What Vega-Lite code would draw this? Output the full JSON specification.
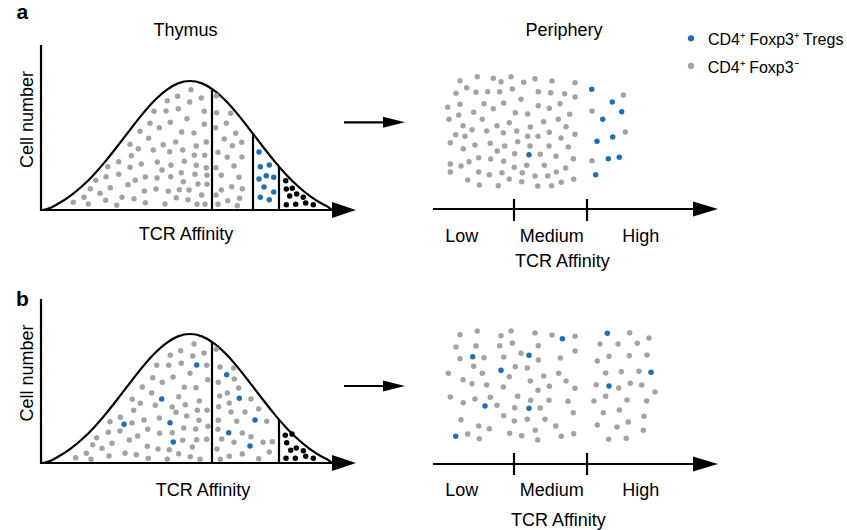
{
 "$schema": "https://vega.github.io/schema/vega-lite/v6.json",
 "width": 847, "height": 530, "padding": 0,
 "autosize": {"type": "fit", "contains": "padding"},
 "background": "white",
 "config": {"view": {"stroke": null}, "text": {"font": "Liberation Sans"}},
 "datasets": {
  "segs": [
   {"x":41,"y":45,"x2":41,"y2":211},{"x":40,"y":210,"x2":334,"y2":210},
   {"x":212,"y":210,"x2":212,"y2":88.8},{"x":253,"y":210,"x2":253,"y2":133.7},{"x":279,"y":210,"x2":279,"y2":167},
   {"x":41,"y":299,"x2":41,"y2":464},{"x":40,"y":463,"x2":334,"y2":463},
   {"x":212,"y":463,"x2":212,"y2":341.8},{"x":279,"y":463,"x2":279,"y2":420},
   {"x":344,"y":122.3,"x2":385,"y2":122.3},{"x":344,"y":386,"x2":385,"y2":386},
   {"x":433,"y":209,"x2":695,"y2":209},{"x":514,"y":199,"x2":514,"y2":221},{"x":587,"y":199,"x2":587,"y2":221},
   {"x":433,"y":464,"x2":695,"y2":464},{"x":514,"y":453,"x2":514,"y2":475},{"x":587,"y":453,"x2":587,"y2":475}
  ],
  "curve": [
   {"p":"a","x":43,"y":210},{"p":"a","x":50,"y":208},{"p":"a","x":58,"y":203.8},{"p":"a","x":70,"y":196.1},{"p":"a","x":82,"y":186.3},{"p":"a","x":94,"y":174.4},{"p":"a","x":106,"y":160.6},{"p":"a","x":118,"y":145.5},{"p":"a","x":130,"y":129.8},{"p":"a","x":142,"y":114.6},{"p":"a","x":154,"y":101},{"p":"a","x":166,"y":90.3},{"p":"a","x":178,"y":83.4},{"p":"a","x":190,"y":81},{"p":"a","x":202,"y":83.4},{"p":"a","x":214,"y":90.3},{"p":"a","x":226,"y":101},{"p":"a","x":238,"y":114.6},{"p":"a","x":250,"y":129.8},{"p":"a","x":262,"y":145.5},{"p":"a","x":274,"y":160.6},{"p":"a","x":286,"y":174.4},{"p":"a","x":298,"y":186.3},{"p":"a","x":310,"y":196.1},{"p":"a","x":322,"y":203.8},{"p":"a","x":328,"y":206.9},{"p":"a","x":332,"y":210},
   {"p":"b","x":43,"y":463},{"p":"b","x":50,"y":461},{"p":"b","x":58,"y":456.8},{"p":"b","x":70,"y":449.1},{"p":"b","x":82,"y":439.3},{"p":"b","x":94,"y":427.4},{"p":"b","x":106,"y":413.6},{"p":"b","x":118,"y":398.5},{"p":"b","x":130,"y":382.8},{"p":"b","x":142,"y":367.6},{"p":"b","x":154,"y":354},{"p":"b","x":166,"y":343.3},{"p":"b","x":178,"y":336.4},{"p":"b","x":190,"y":334},{"p":"b","x":202,"y":336.4},{"p":"b","x":214,"y":343.3},{"p":"b","x":226,"y":354},{"p":"b","x":238,"y":367.6},{"p":"b","x":250,"y":382.8},{"p":"b","x":262,"y":398.5},{"p":"b","x":274,"y":413.6},{"p":"b","x":286,"y":427.4},{"p":"b","x":298,"y":439.3},{"p":"b","x":310,"y":449.1},{"p":"b","x":322,"y":456.8},{"p":"b","x":328,"y":459.9},{"p":"b","x":332,"y":463}
  ],
  "heads": [
   {"k":"t","x":344,"y":210},{"k":"t","x":344,"y":463},
   {"k":"p","x":705.5,"y":209},{"k":"p","x":705.5,"y":464},
   {"k":"m","x":394,"y":122.3},{"k":"m","x":394,"y":386}
  ],
  "legend": [
   {"x":691,"y":38.3,"t":"b"},{"x":691,"y":66,"t":"g"}
  ],
  "labels": [
   {"r":"L","x":16.5,"y":18.5,"text":"a"},{"r":"L","x":16,"y":305.5,"text":"b"},
   {"r":"T","x":185.5,"y":36,"text":"Thymus"},{"r":"T","x":564,"y":36,"text":"Periphery"},
   {"r":"T","x":186,"y":240,"text":"TCR Affinity"},{"r":"T","x":203,"y":496,"text":"TCR Affinity"},
   {"r":"T","x":461.7,"y":241.7,"text":"Low"},{"r":"T","x":551.7,"y":241.7,"text":"Medium"},{"r":"T","x":640.7,"y":241.7,"text":"High"},{"r":"T","x":562.3,"y":267.3,"text":"TCR Affinity"},
   {"r":"T","x":461.7,"y":495.7,"text":"Low"},{"r":"T","x":551.7,"y":495.7,"text":"Medium"},{"r":"T","x":640.7,"y":495.7,"text":"High"},{"r":"T","x":558.3,"y":526,"text":"TCR Affinity"},
   {"r":"V","x":33.3,"y":119.5,"text":"Cell number"},{"r":"V","x":33.3,"y":373,"text":"Cell number"},
   {"r":"G","x":708,"y":45,"text":"CD4⁺ Foxp3⁺ Tregs"},{"r":"G","x":707.7,"y":72.7,"text":"CD4⁺ Foxp3⁻"}
  ],
  "dots": [
   {"x":191,"y":89.7,"t":"g"},{"x":177.7,"y":96.3,"t":"g"},{"x":167.3,"y":100.7,"t":"g"},{"x":189.7,"y":102,"t":"g"},{"x":201.3,"y":98,"t":"g"},{"x":154,"y":111.3,"t":"g"},{"x":166,"y":111,"t":"g"},{"x":178.3,"y":108.7,"t":"g"},{"x":204.3,"y":111.3,"t":"g"},{"x":150,"y":123.3,"t":"g"},{"x":159.3,"y":127.7,"t":"g"},{"x":170.3,"y":122.3,"t":"g"},{"x":187,"y":118.7,"t":"g"},{"x":204.3,"y":124.3,"t":"g"},{"x":140,"y":131.3,"t":"g"},{"x":148.7,"y":138.3,"t":"g"},{"x":181.7,"y":132,"t":"g"},{"x":194,"y":133,"t":"g"},{"x":130,"y":144.3,"t":"g"},{"x":138.3,"y":148.7,"t":"g"},{"x":153.3,"y":150,"t":"g"},{"x":163.3,"y":144.7,"t":"g"},{"x":175.7,"y":142,"t":"g"},{"x":169.7,"y":151.7,"t":"g"},{"x":182.7,"y":150,"t":"g"},{"x":196.3,"y":146,"t":"g"},{"x":206.3,"y":142,"t":"g"},{"x":131.3,"y":155.7,"t":"g"},{"x":118.7,"y":161.7,"t":"g"},{"x":141.3,"y":164,"t":"g"},{"x":157.3,"y":162,"t":"g"},{"x":171,"y":165.3,"t":"g"},{"x":184.3,"y":161.3,"t":"g"},{"x":194.3,"y":155.3,"t":"g"},{"x":204.7,"y":155.3,"t":"g"},{"x":107.7,"y":166.7,"t":"g"},{"x":130,"y":167.3,"t":"g"},{"x":162,"y":170,"t":"g"},{"x":181.3,"y":172.7,"t":"g"},{"x":196.3,"y":165.3,"t":"g"},{"x":206.3,"y":167.7,"t":"g"},{"x":95.7,"y":180.3,"t":"g"},{"x":106,"y":176.7,"t":"g"},{"x":118.7,"y":174.3,"t":"g"},{"x":128,"y":184.7,"t":"g"},{"x":135.3,"y":180.3,"t":"g"},{"x":145.3,"y":177,"t":"g"},{"x":157,"y":178,"t":"g"},{"x":170.7,"y":176.7,"t":"g"},{"x":183.3,"y":181.7,"t":"g"},{"x":195,"y":174.3,"t":"g"},{"x":207,"y":175.3,"t":"g"},{"x":90.3,"y":188.7,"t":"g"},{"x":100,"y":193.3,"t":"g"},{"x":110.3,"y":187.7,"t":"g"},{"x":144.3,"y":191,"t":"g"},{"x":156,"y":189,"t":"g"},{"x":168.3,"y":191.3,"t":"g"},{"x":179.3,"y":189.7,"t":"g"},{"x":189,"y":190,"t":"g"},{"x":198,"y":184,"t":"g"},{"x":207,"y":184.3,"t":"g"},{"x":73.3,"y":202.3,"t":"g"},{"x":84,"y":197.3,"t":"g"},{"x":88.3,"y":204,"t":"g"},{"x":105.7,"y":200.3,"t":"g"},{"x":116.7,"y":205.3,"t":"g"},{"x":122,"y":197.3,"t":"g"},{"x":134,"y":198.7,"t":"g"},{"x":145.3,"y":202.7,"t":"g"},{"x":165,"y":204,"t":"g"},{"x":176.3,"y":197.7,"t":"g"},{"x":188,"y":199.7,"t":"g"},{"x":197,"y":204.3,"t":"g"},{"x":205,"y":204.3,"t":"g"},{"x":201.7,"y":195,"t":"g"},
   {"x":216.3,"y":95.7,"t":"g"},{"x":216.7,"y":112.7,"t":"g"},{"x":230.7,"y":113.3,"t":"g"},{"x":226.3,"y":123.3,"t":"g"},{"x":215.7,"y":127.7,"t":"g"},{"x":235.7,"y":133.3,"t":"g"},{"x":224.3,"y":139,"t":"g"},{"x":232.3,"y":145.7,"t":"g"},{"x":241.7,"y":142.3,"t":"g"},{"x":218,"y":152.3,"t":"g"},{"x":227.3,"y":157.3,"t":"g"},{"x":242,"y":157,"t":"g"},{"x":216,"y":167.7,"t":"g"},{"x":234,"y":166,"t":"g"},{"x":221.3,"y":175.3,"t":"g"},{"x":239,"y":177.3,"t":"g"},{"x":216,"y":195,"t":"g"},{"x":221.3,"y":190,"t":"g"},{"x":231.7,"y":186.7,"t":"g"},{"x":242.3,"y":188.7,"t":"g"},{"x":227.7,"y":200.7,"t":"g"},{"x":239.7,"y":198.3,"t":"g"},{"x":218,"y":204.3,"t":"g"},{"x":237.3,"y":205.7,"t":"g"},
   {"x":259,"y":152,"t":"b"},{"x":260.3,"y":166.7,"t":"b"},{"x":269.3,"y":165,"t":"b"},{"x":259,"y":179,"t":"b"},{"x":266.3,"y":175.7,"t":"b"},{"x":273.7,"y":177.3,"t":"b"},{"x":264,"y":187,"t":"b"},{"x":273.7,"y":192,"t":"b"},{"x":260.3,"y":197.3,"t":"b"},{"x":269.3,"y":199.7,"t":"b"},
   {"x":285.7,"y":180.7,"t":"k"},{"x":286.3,"y":189,"t":"k"},{"x":292.3,"y":188.3,"t":"k"},{"x":289.7,"y":196,"t":"k"},{"x":296.7,"y":194,"t":"k"},{"x":303.3,"y":197.3,"t":"k"},{"x":286.3,"y":204.7,"t":"k"},{"x":295.7,"y":204.3,"t":"k"},{"x":305.7,"y":203,"t":"k"},{"x":313.3,"y":204.7,"t":"k"},
   {"x":194,"y":344,"t":"g"},{"x":180.7,"y":350.7,"t":"g"},{"x":170.3,"y":355.3,"t":"g"},{"x":192.7,"y":356,"t":"g"},{"x":204,"y":353,"t":"g"},{"x":156.7,"y":365.3,"t":"g"},{"x":168.7,"y":365.3,"t":"g"},{"x":181.3,"y":363.3,"t":"g"},{"x":206.7,"y":365.3,"t":"g"},{"x":152.7,"y":377.7,"t":"g"},{"x":162.3,"y":382.3,"t":"g"},{"x":173,"y":377,"t":"g"},{"x":190,"y":373.3,"t":"g"},{"x":207.7,"y":379.7,"t":"g"},{"x":142.3,"y":387,"t":"g"},{"x":151.7,"y":393,"t":"g"},{"x":184.3,"y":387.3,"t":"g"},{"x":196,"y":387.7,"t":"g"},{"x":132.3,"y":399.3,"t":"g"},{"x":140.3,"y":403.3,"t":"g"},{"x":155.3,"y":405.3,"t":"g"},{"x":178.7,"y":396.7,"t":"g"},{"x":172.3,"y":407,"t":"g"},{"x":185.3,"y":404.7,"t":"g"},{"x":199.3,"y":401,"t":"g"},{"x":207,"y":410.3,"t":"g"},{"x":133.7,"y":410.3,"t":"g"},{"x":120.3,"y":417.3,"t":"g"},{"x":132,"y":423,"t":"g"},{"x":144,"y":420,"t":"g"},{"x":159.3,"y":418,"t":"g"},{"x":176,"y":412.3,"t":"g"},{"x":186.7,"y":416,"t":"g"},{"x":197.3,"y":410.3,"t":"g"},{"x":199,"y":420.3,"t":"g"},{"x":110,"y":421.7,"t":"g"},{"x":108.3,"y":432.3,"t":"g"},{"x":120,"y":431,"t":"g"},{"x":129.3,"y":440,"t":"g"},{"x":137.7,"y":436,"t":"g"},{"x":147.7,"y":429.3,"t":"g"},{"x":159.7,"y":433.3,"t":"g"},{"x":172.3,"y":432.7,"t":"g"},{"x":183.7,"y":428,"t":"g"},{"x":195.7,"y":429,"t":"g"},{"x":208,"y":426.3,"t":"g"},{"x":96.7,"y":437.7,"t":"g"},{"x":92.7,"y":444.7,"t":"g"},{"x":102,"y":448.3,"t":"g"},{"x":112,"y":443.3,"t":"g"},{"x":147.3,"y":446.3,"t":"g"},{"x":158,"y":449,"t":"g"},{"x":169.3,"y":449.7,"t":"g"},{"x":182.7,"y":440.3,"t":"g"},{"x":192.3,"y":447,"t":"g"},{"x":196.7,"y":439.7,"t":"g"},{"x":206.7,"y":439.3,"t":"g"},{"x":75.7,"y":457.7,"t":"g"},{"x":86.3,"y":453.3,"t":"g"},{"x":91,"y":459.3,"t":"g"},{"x":109,"y":456,"t":"g"},{"x":125,"y":453.3,"t":"g"},{"x":136.3,"y":454.7,"t":"g"},{"x":148.3,"y":458.3,"t":"g"},{"x":167.3,"y":459.3,"t":"g"},{"x":178.7,"y":453.7,"t":"g"},{"x":190.3,"y":456.7,"t":"g"},{"x":200,"y":459.3,"t":"g"},
   {"x":196.7,"y":365,"t":"b"},{"x":161.7,"y":399,"t":"b"},{"x":124,"y":424.3,"t":"b"},{"x":170,"y":422.7,"t":"b"},{"x":173.3,"y":442,"t":"b"},
   {"x":216.3,"y":349.3,"t":"g"},{"x":220,"y":367,"t":"g"},{"x":233.7,"y":368,"t":"g"},{"x":218.3,"y":382.3,"t":"g"},{"x":234.3,"y":379,"t":"g"},{"x":238.7,"y":388,"t":"g"},{"x":227.3,"y":393,"t":"g"},{"x":219.7,"y":396,"t":"g"},{"x":229.3,"y":403,"t":"g"},{"x":251,"y":399,"t":"g"},{"x":218.7,"y":406.7,"t":"g"},{"x":231,"y":412,"t":"g"},{"x":245,"y":412,"t":"g"},{"x":258.7,"y":409,"t":"g"},{"x":218.3,"y":420.3,"t":"g"},{"x":236.7,"y":421.3,"t":"g"},{"x":266.7,"y":421.3,"t":"g"},{"x":218,"y":429.3,"t":"g"},{"x":242.3,"y":433,"t":"g"},{"x":221.7,"y":439,"t":"g"},{"x":234,"y":442.3,"t":"g"},{"x":251,"y":436.7,"t":"g"},{"x":263,"y":442.3,"t":"g"},{"x":272.3,"y":441.7,"t":"g"},{"x":217,"y":449,"t":"g"},{"x":269.3,"y":452,"t":"g"},{"x":229.3,"y":456.3,"t":"g"},{"x":242.3,"y":454,"t":"g"},{"x":220.3,"y":459.3,"t":"g"},{"x":258.7,"y":458.7,"t":"g"},
   {"x":226.7,"y":374.7,"t":"b"},{"x":239.3,"y":398.3,"t":"b"},{"x":255,"y":420,"t":"b"},{"x":228.7,"y":432.7,"t":"b"},{"x":250,"y":446,"t":"b"},
   {"x":285.3,"y":435.3,"t":"k"},{"x":292,"y":434,"t":"k"},{"x":286.7,"y":442.7,"t":"k"},{"x":290.7,"y":450.3,"t":"k"},{"x":296.3,"y":448,"t":"k"},{"x":303.3,"y":450.7,"t":"k"},{"x":286,"y":458.3,"t":"k"},{"x":295.3,"y":458.3,"t":"k"},{"x":305.7,"y":456.3,"t":"k"},{"x":313.3,"y":458.3,"t":"k"},
   {"x":460,"y":80.7,"t":"g"},{"x":477.3,"y":76.7,"t":"g"},{"x":493.3,"y":78.3,"t":"g"},{"x":501,"y":81.7,"t":"g"},{"x":511,"y":76.7,"t":"g"},{"x":523.7,"y":82.3,"t":"g"},{"x":535,"y":78.7,"t":"g"},{"x":552,"y":81,"t":"g"},{"x":575,"y":82.7,"t":"g"},{"x":456,"y":93.3,"t":"g"},{"x":466.7,"y":87.7,"t":"g"},{"x":476,"y":92.3,"t":"g"},{"x":487.7,"y":91.7,"t":"g"},{"x":499.7,"y":91.7,"t":"g"},{"x":512.3,"y":89,"t":"g"},{"x":538.3,"y":91.7,"t":"g"},{"x":550.7,"y":92.7,"t":"g"},{"x":564.7,"y":93.7,"t":"g"},{"x":575,"y":97,"t":"g"},{"x":447.7,"y":107.3,"t":"g"},{"x":460,"y":104.3,"t":"g"},{"x":484,"y":103.7,"t":"g"},{"x":493.3,"y":108.7,"t":"g"},{"x":503.7,"y":103,"t":"g"},{"x":521,"y":99.3,"t":"g"},{"x":538.3,"y":105.7,"t":"g"},{"x":549.3,"y":108.3,"t":"g"},{"x":560,"y":103.7,"t":"g"},{"x":449,"y":119.3,"t":"g"},{"x":458.7,"y":115,"t":"g"},{"x":473.7,"y":112.3,"t":"g"},{"x":482.3,"y":119.3,"t":"g"},{"x":515.3,"y":112.7,"t":"g"},{"x":527.7,"y":114,"t":"g"},{"x":569.7,"y":114.3,"t":"g"},{"x":463,"y":125.7,"t":"g"},{"x":472,"y":129.7,"t":"g"},{"x":486.7,"y":131,"t":"g"},{"x":497,"y":125.7,"t":"g"},{"x":509.3,"y":122.7,"t":"g"},{"x":503.3,"y":132.7,"t":"g"},{"x":516.7,"y":131,"t":"g"},{"x":530.3,"y":127,"t":"g"},{"x":543.7,"y":121.7,"t":"g"},{"x":558.3,"y":119.3,"t":"g"},{"x":566,"y":126.7,"t":"g"},{"x":575,"y":134.3,"t":"g"},{"x":455.7,"y":134.7,"t":"g"},{"x":465,"y":136.3,"t":"g"},{"x":475,"y":145,"t":"g"},{"x":490.3,"y":143.3,"t":"g"},{"x":504.7,"y":146,"t":"g"},{"x":517.7,"y":141.7,"t":"g"},{"x":527.7,"y":136.3,"t":"g"},{"x":538,"y":136.3,"t":"g"},{"x":549.3,"y":132.3,"t":"g"},{"x":561,"y":138,"t":"g"},{"x":450.3,"y":142.7,"t":"g"},{"x":463.3,"y":148.7,"t":"g"},{"x":497.3,"y":151,"t":"g"},{"x":514.7,"y":153.7,"t":"g"},{"x":540.3,"y":154.3,"t":"g"},{"x":556,"y":156.3,"t":"g"},{"x":568.3,"y":147,"t":"g"},{"x":549,"y":146,"t":"g"},{"x":530,"y":146,"t":"g"},{"x":450.3,"y":164,"t":"g"},{"x":461,"y":166,"t":"g"},{"x":469,"y":161.7,"t":"g"},{"x":478.7,"y":157.7,"t":"g"},{"x":490.7,"y":159,"t":"g"},{"x":503.7,"y":161.3,"t":"g"},{"x":573.3,"y":158.7,"t":"g"},{"x":450.3,"y":172,"t":"g"},{"x":478.7,"y":172,"t":"g"},{"x":489.3,"y":174.7,"t":"g"},{"x":502,"y":172.7,"t":"g"},{"x":514.3,"y":167.3,"t":"g"},{"x":526.7,"y":165.3,"t":"g"},{"x":544.3,"y":165.3,"t":"g"},{"x":522.3,"y":172.7,"t":"g"},{"x":535,"y":176,"t":"g"},{"x":547.7,"y":176,"t":"g"},{"x":556.3,"y":172,"t":"g"},{"x":565.7,"y":168,"t":"g"},{"x":467.7,"y":180,"t":"g"},{"x":479.3,"y":185,"t":"g"},{"x":498.3,"y":185.7,"t":"g"},{"x":509.3,"y":179,"t":"g"},{"x":521.7,"y":181.7,"t":"g"},{"x":537.7,"y":186,"t":"g"},{"x":551.7,"y":185.7,"t":"g"},{"x":561.3,"y":182.3,"t":"g"},{"x":573.7,"y":179.3,"t":"g"},
   {"x":623.3,"y":95,"t":"g"},{"x":592,"y":111,"t":"g"},{"x":625.3,"y":132,"t":"g"},{"x":592,"y":160.7,"t":"g"},
   {"x":591.7,"y":89.3,"t":"b"},{"x":612.3,"y":102,"t":"b"},{"x":621.7,"y":111.7,"t":"b"},{"x":602.7,"y":119.3,"t":"b"},{"x":612.7,"y":137,"t":"b"},{"x":597,"y":141.3,"t":"b"},{"x":608.3,"y":158.7,"t":"b"},{"x":619.3,"y":157.3,"t":"b"},{"x":595.7,"y":174.7,"t":"b"},{"x":529,"y":154.7,"t":"b"},
   {"x":460,"y":334.7,"t":"g"},{"x":477.3,"y":331,"t":"g"},{"x":501,"y":335.7,"t":"g"},{"x":511,"y":331,"t":"g"},{"x":535,"y":333,"t":"g"},{"x":552,"y":335,"t":"g"},{"x":575,"y":336.3,"t":"g"},{"x":456,"y":347,"t":"g"},{"x":476,"y":346,"t":"g"},{"x":499.7,"y":345.7,"t":"g"},{"x":512.3,"y":343,"t":"g"},{"x":538.3,"y":345.7,"t":"g"},{"x":460,"y":358.7,"t":"g"},{"x":484,"y":357.7,"t":"g"},{"x":503.7,"y":357,"t":"g"},{"x":521,"y":353.3,"t":"g"},{"x":538.3,"y":360,"t":"g"},{"x":560.3,"y":358,"t":"g"},{"x":575,"y":351,"t":"g"},{"x":448.3,"y":373.3,"t":"g"},{"x":473.7,"y":366.3,"t":"g"},{"x":482.3,"y":373.3,"t":"g"},{"x":515.3,"y":366.7,"t":"g"},{"x":527.3,"y":368,"t":"g"},{"x":558.7,"y":373.3,"t":"g"},{"x":463,"y":379.7,"t":"g"},{"x":472,"y":383.7,"t":"g"},{"x":486.7,"y":385,"t":"g"},{"x":509.3,"y":376.7,"t":"g"},{"x":530.3,"y":381,"t":"g"},{"x":543.7,"y":376,"t":"g"},{"x":566,"y":381,"t":"g"},{"x":503.3,"y":387,"t":"g"},{"x":538,"y":390.3,"t":"g"},{"x":549.3,"y":386.3,"t":"g"},{"x":575,"y":388.3,"t":"g"},{"x":450.3,"y":397,"t":"g"},{"x":463.3,"y":402.7,"t":"g"},{"x":475,"y":399,"t":"g"},{"x":490.3,"y":397.3,"t":"g"},{"x":497,"y":405.3,"t":"g"},{"x":517.7,"y":396.3,"t":"g"},{"x":514.7,"y":407.7,"t":"g"},{"x":530.7,"y":400.3,"t":"g"},{"x":540.3,"y":408,"t":"g"},{"x":549,"y":400.3,"t":"g"},{"x":568,"y":401.3,"t":"g"},{"x":461,"y":419.7,"t":"g"},{"x":478.7,"y":426,"t":"g"},{"x":489.3,"y":428.7,"t":"g"},{"x":503.7,"y":415.7,"t":"g"},{"x":514.3,"y":421,"t":"g"},{"x":527.3,"y":419.3,"t":"g"},{"x":545,"y":419.3,"t":"g"},{"x":555.7,"y":426,"t":"g"},{"x":573.3,"y":412.7,"t":"g"},{"x":467.7,"y":434,"t":"g"},{"x":479.3,"y":438.7,"t":"g"},{"x":509.7,"y":433.3,"t":"g"},{"x":521.7,"y":435.7,"t":"g"},{"x":535.3,"y":430.3,"t":"g"},{"x":537.7,"y":440,"t":"g"},{"x":561.3,"y":436.3,"t":"g"},{"x":573.7,"y":433.7,"t":"g"},
   {"x":629.7,"y":332.7,"t":"g"},{"x":649,"y":338,"t":"g"},{"x":600,"y":344,"t":"g"},{"x":618,"y":344,"t":"g"},{"x":637.3,"y":343.3,"t":"g"},{"x":597.3,"y":361,"t":"g"},{"x":609,"y":356.3,"t":"g"},{"x":629.3,"y":355.7,"t":"g"},{"x":647,"y":355,"t":"g"},{"x":605.7,"y":373,"t":"g"},{"x":621.3,"y":371.7,"t":"g"},{"x":639,"y":371.3,"t":"g"},{"x":596.3,"y":384.7,"t":"g"},{"x":618.7,"y":388,"t":"g"},{"x":630.3,"y":383.3,"t":"g"},{"x":641.7,"y":385,"t":"g"},{"x":655,"y":392,"t":"g"},{"x":594,"y":401,"t":"g"},{"x":605.7,"y":396.3,"t":"g"},{"x":627,"y":400,"t":"g"},{"x":646.7,"y":401,"t":"g"},{"x":603.3,"y":412.7,"t":"g"},{"x":619.3,"y":410,"t":"g"},{"x":644,"y":416.3,"t":"g"},{"x":597.3,"y":425,"t":"g"},{"x":617,"y":427,"t":"g"},{"x":628.3,"y":422,"t":"g"},{"x":643.3,"y":430.3,"t":"g"},{"x":608.7,"y":439.3,"t":"g"},{"x":626.3,"y":438.3,"t":"g"},
   {"x":562.3,"y":338.7,"t":"b"},{"x":607.3,"y":333.3,"t":"b"},{"x":472.7,"y":356.7,"t":"b"},{"x":529,"y":355.3,"t":"b"},{"x":501,"y":370.3,"t":"b"},{"x":651,"y":372.3,"t":"b"},{"x":609,"y":386,"t":"b"},{"x":485,"y":406,"t":"b"},{"x":529,"y":408.3,"t":"b"},{"x":455.7,"y":436.3,"t":"b"}
  ]
 },
 "encoding": {
  "x": {"field": "x", "type": "quantitative", "scale": {"domain": [0, 847], "nice": false, "zero": false}, "axis": null},
  "y": {"field": "y", "type": "quantitative", "scale": {"domain": [0, 530], "reverse": true, "nice": false, "zero": false}, "axis": null}
 },
 "layer": [
  {"data": {"name": "segs"}, "mark": {"type": "rule", "color": "black", "strokeWidth": 2.2},
   "encoding": {"x2": {"field": "x2"}, "y2": {"field": "y2"}}},
  {"data": {"name": "curve"}, "mark": {"type": "line", "interpolate": "monotone", "color": "black", "strokeWidth": 2.2},
   "encoding": {"detail": {"field": "p", "type": "nominal"}}},
  {"data": {"name": "dots"}, "mark": {"type": "point", "filled": true, "size": 30, "opacity": 1, "strokeWidth": 0},
   "encoding": {"color": {"field": "t", "type": "nominal", "scale": {"domain": ["b", "g", "k"], "range": ["#1f6fb6", "#a3a3a3", "#000000"]}, "legend": null}}},
  {"data": {"name": "legend"}, "mark": {"type": "point", "filled": true, "size": 40, "opacity": 1, "strokeWidth": 0},
   "encoding": {"color": {"field": "t", "type": "nominal", "legend": null}}},
  {"data": {"name": "heads"}, "transform": [{"filter": "datum.k === 't'"}],
   "mark": {"type": "point", "shape": "M-1,-0.667L1,0L-1,0.667Z", "size": 576, "filled": true, "color": "black", "opacity": 1, "strokeWidth": 0}},
  {"data": {"name": "heads"}, "transform": [{"filter": "datum.k === 'p'"}],
   "mark": {"type": "point", "shape": "M-1,-0.6L1,0L-1,0.6Z", "size": 625, "filled": true, "color": "black", "opacity": 1, "strokeWidth": 0}},
  {"data": {"name": "heads"}, "transform": [{"filter": "datum.k === 'm'"}],
   "mark": {"type": "point", "shape": "M-1,-0.5L1,0L-1,0.5Z", "size": 484, "filled": true, "color": "black", "opacity": 1, "strokeWidth": 0}},
  {"data": {"name": "labels"}, "transform": [{"filter": "datum.r === 'L'"}],
   "mark": {"type": "text", "font": "Liberation Sans", "fontSize": 21, "fontWeight": "bold", "align": "left", "baseline": "alphabetic", "color": "black"},
   "encoding": {"text": {"field": "text"}}},
  {"data": {"name": "labels"}, "transform": [{"filter": "datum.r === 'T'"}],
   "mark": {"type": "text", "font": "Liberation Sans", "fontSize": 18, "align": "center", "baseline": "alphabetic", "color": "black"},
   "encoding": {"text": {"field": "text"}}},
  {"data": {"name": "labels"}, "transform": [{"filter": "datum.r === 'V'"}],
   "mark": {"type": "text", "font": "Liberation Sans", "fontSize": 18, "align": "center", "baseline": "alphabetic", "angle": 270, "color": "black"},
   "encoding": {"text": {"field": "text"}}},
  {"data": {"name": "labels"}, "transform": [{"filter": "datum.r === 'G'"}],
   "mark": {"type": "text", "font": "Liberation Sans", "fontSize": 16, "align": "left", "baseline": "alphabetic", "color": "black"},
   "encoding": {"text": {"field": "text"}}}
 ]
}
